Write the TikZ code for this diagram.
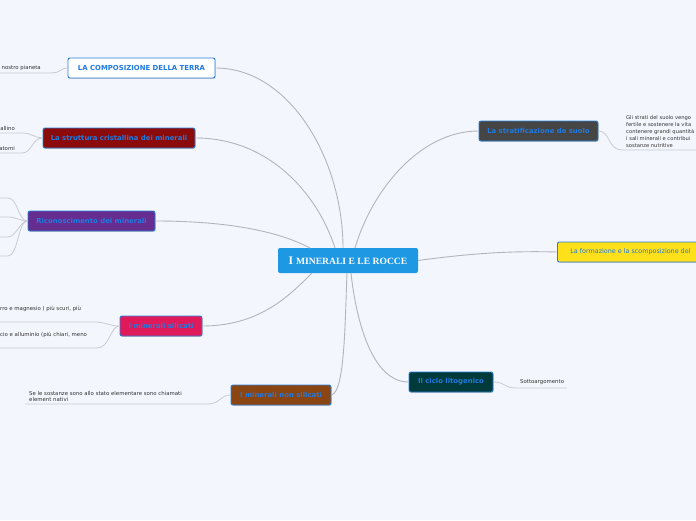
\documentclass[tikz,border=0pt]{standalone}
\usepackage{fontspec}
\usetikzlibrary{shadows}
\newfontfamily\nf{DejaVu Sans}
\newfontfamily\tf{Liberation Serif}
\definecolor{bg}{HTML}{F3F6FD}
\definecolor{txtblue}{HTML}{1F7AE0}
\definecolor{bordblue}{HTML}{2B7FD8}
\definecolor{cblue}{HTML}{1E98E3}
\definecolor{cred}{HTML}{8B0A0A}
\definecolor{cpurple}{HTML}{662D91}
\definecolor{cpink}{HTML}{E0195A}
\definecolor{cbrown}{HTML}{8B4513}
\definecolor{cgray}{HTML}{454545}
\definecolor{cyellow}{HTML}{FFE01A}
\definecolor{cgreen}{HTML}{003A3A}
\definecolor{mainline}{HTML}{B3B4BC}
\definecolor{subline}{HTML}{CACBD2}
\definecolor{subtxt}{HTML}{333333}
\tikzset{
  topic/.style={draw=bordblue, line width=0.9pt, rounded corners=2pt, minimum height=20pt,
    inner sep=0pt, text=txtblue, font=\nf\bfseries\fontsize{6.9}{7.5}\selectfont,
    drop shadow={shadow xshift=0.6pt, shadow yshift=-0.8pt, opacity=0.35}},
  central/.style={fill=cblue, rounded corners=2pt, minimum width=140pt, minimum height=25pt,
    inner sep=0pt, text=white},
  conn/.style={draw=mainline, line width=0.9pt},
  subconn/.style={draw=subline, line width=0.8pt},
  subtext/.style={text=subtxt, font=\nf\fontsize{5.4}{6.5}\selectfont, inner sep=0pt, align=left},
}
\begin{document}
\begin{tikzpicture}[x=1pt,y=-1pt]
\useasboundingbox (0,0) rectangle (696,520);
\fill[bg] (0,0) rectangle (696,520);
\clip (0,0) rectangle (696,520);

% central
\node[central] (c) at (348,260.5) {\tf\bfseries\fontsize{11.5}{12}\selectfont I \fontsize{9.6}{11}\selectfont MINERALI E LE ROCCE};

% main topics
\node[topic, fill=white, minimum width=147pt] (comp) at (141.5,68) {LA COMPOSIZIONE DELLA TERRA};
\node[topic, fill=cred, minimum width=152pt] (strutt) at (119,138) {La struttura cristallina dei minerali};
\node[topic, fill=cpurple, minimum width=127pt] (ricon) at (91.5,221) {Riconoscimento dei minerali};
\node[topic, fill=cpink, minimum width=82pt] (sil) at (161,326) {I minerali silicati};
\node[topic, fill=cbrown, minimum width=100pt] (nonsil) at (281,395) {I minerali non silicati};
\node[topic, fill=cgray, minimum width=119pt] (strat) at (538.5,131) {La stratificazione de suolo};
\node[topic, fill=cyellow, anchor=west, minimum width=146pt, font=\nf\fontsize{6.4}{7.5}\selectfont] (form) at (557,252) {La formazione e la scomposizione del};
\node[topic, fill=cgreen, minimum width=84pt] (ciclo) at (451,382) {Il ciclo litogenico};

% main connectors
\coordinate (c1) at (343,248);
\draw[conn] (c1) .. controls (343,160) and (290,68) .. (comp.east);
\draw[conn] (335,248) .. controls (318,195) and (270,138) .. (strutt.east);
\draw[conn] (310,248) .. controls (280,232) and (230,221) .. (ricon.east);
\draw[conn] (312,273) .. controls (290,295) and (260,326) .. (sil.east);
\draw[conn] (347,273) .. controls (345,320) and (345,392) .. (nonsil.east);
\draw[conn] (355,248) .. controls (372,190) and (420,131) .. (strat.west);
\draw[conn] (c.east) .. controls (480,252) and (520,251) .. (form.west);
\draw[conn] (351,273) .. controls (356,320) and (372,382) .. (ciclo.west);

% subtopics: composizione
\coordinate (s1) at (0,73);
\draw[subconn] (comp.west) .. controls (60,68) and (62,73) .. (50,73) -- (s1);
\node[subtext, anchor=south east] (t1) at (41,71) {nostro pianeta};

% struttura
\coordinate (s2) at (0,133);
\coordinate (s3) at (0,153);
\draw[subconn] (strutt.west) .. controls (35,138) and (32,133) .. (22,133) -- (s2);
\draw[subconn] (strutt.west) .. controls (32,138) and (32,153) .. (22,153) -- (s3);
\node[subtext, anchor=south east] (t2) at (15,131) {allino};
\node[subtext, anchor=south east] (t3) at (15,151) {atomi};

% riconoscimento
\coordinate (s4) at (0,198);
\coordinate (s5) at (0,217);
\coordinate (s6) at (0,237);
\coordinate (s7) at (0,256);
\draw[subconn] (ricon.west) .. controls (18,221) and (18,198) .. (8,198) -- (s4);
\draw[subconn] (ricon.west) .. controls (20,221) and (16,217) .. (8,217) -- (s5);
\draw[subconn] (ricon.west) .. controls (20,221) and (16,237) .. (8,237) -- (s6);
\draw[subconn] (ricon.west) .. controls (18,221) and (18,256) .. (8,256) -- (s7);

% silicati
\coordinate (s8) at (0,322);
\coordinate (s9) at (0,348);
\draw[subconn] (sil.west) .. controls (110,326) and (105,322) .. (95,322) -- (s8);
\draw[subconn] (sil.west) .. controls (110,326) and (110,348) .. (97,348) -- (s9);
\node[subtext, anchor=south west] (t8) at (0,312) {rro e magnesio ( più scuri, più};
\node[subtext, anchor=south west] (t9) at (0,338) {cio e alluminio (più chiari, meno};

% non silicati
\coordinate (s10) at (25,404);
\draw[subconn] (nonsil.west) .. controls (220,395) and (220,404) .. (208,404) -- (s10);
\node[subtext, anchor=south west, font=\nf\fontsize{5.4}{6}\selectfont] (t10) at (29,401.5) {Se le sostanze sono allo stato elementare sono chiamati\\element nativi};

% stratificazione
\coordinate (s11) at (696,150);
\draw[subconn] (strat.east) .. controls (610,131) and (608,150) .. (622,150) -- (s11);
\node[subtext, anchor=south west, font=\nf\fontsize{5.2}{6.85}\selectfont] (t11) at (626,147.5) {Gli strati del suolo vengo\\fertile e sostenere la vita\\contenere grandi quantità\\i sali minerali e contribui\\sostanze nutritive};

% ciclo
\coordinate (s12) at (567,388);
\draw[subconn] (ciclo.east) .. controls (505,382) and (505,388) .. (515,388) -- (s12);
\node[subtext, anchor=south west] (t12) at (520,385) {Sottoargomento};
\end{tikzpicture}
\end{document}
